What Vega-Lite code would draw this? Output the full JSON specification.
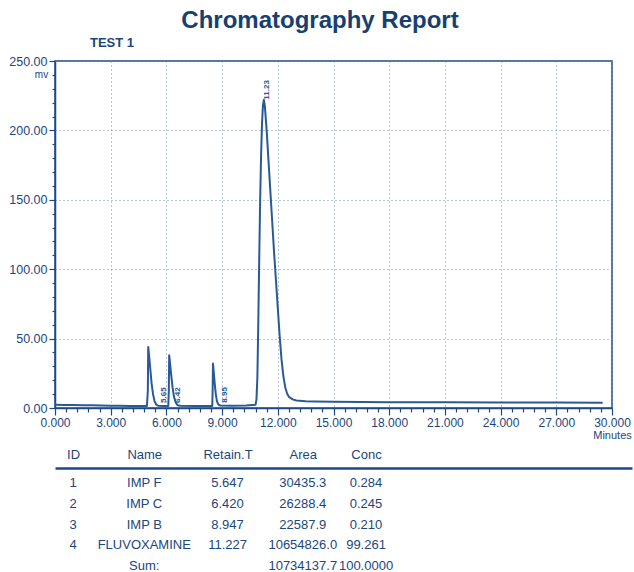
{
  "$schema": "https://vega.github.io/schema/vega-lite/v6.json",
  "background": "white",
  "padding": {"left": 8, "top": 9, "right": 0, "bottom": 0},
  "title": {"text": "Chromatography Report", "fontSize": 24, "font": "Liberation Sans", "fontWeight": "bold", "color": "#173f70", "anchor": "middle", "offset": 3},
  "config": {"font": "Liberation Sans", "view": {"stroke": null}, "concat": {"spacing": 7}},
  "vconcat": [
    {
      "width": 557,
      "height": 347,
      "view": {"stroke": "#1d4a85", "strokeWidth": 1.5},
      "title": {"text": "TEST 1", "anchor": "start", "frame": "group", "fontSize": 13, "fontWeight": "bold", "color": "#1b4680", "dx": 35, "offset": 5},
      "layer": [
        {
          "data": {"values": [
            {"t":0,"mv":2.3},{"t":0.5,"mv":2.2},{"t":1,"mv":2.1},{"t":1.5,"mv":2.0},{"t":2,"mv":1.9},{"t":2.5,"mv":1.8},{"t":3,"mv":1.7},{"t":3.5,"mv":1.6},{"t":4,"mv":1.5},{"t":4.5,"mv":1.5},{"t":4.95,"mv":1.5},
            {"t":5.0,"mv":12},{"t":5.02,"mv":44},{"t":5.06,"mv":39},{"t":5.12,"mv":30},{"t":5.2,"mv":18},{"t":5.28,"mv":10},{"t":5.36,"mv":5},{"t":5.45,"mv":2.5},{"t":5.55,"mv":1.7},{"t":5.8,"mv":1.5},{"t":6.1,"mv":1.5},
            {"t":6.13,"mv":12},{"t":6.15,"mv":38},{"t":6.19,"mv":33},{"t":6.25,"mv":25},{"t":6.33,"mv":15},{"t":6.41,"mv":8},{"t":6.5,"mv":4},{"t":6.6,"mv":2},{"t":6.75,"mv":1.6},{"t":7.5,"mv":1.5},{"t":8.47,"mv":1.5},
            {"t":8.49,"mv":12},{"t":8.51,"mv":32},{"t":8.55,"mv":26},{"t":8.6,"mv":18},{"t":8.66,"mv":10},{"t":8.72,"mv":5},{"t":8.8,"mv":2.5},{"t":8.9,"mv":1.8},{"t":9.5,"mv":1.7},{"t":10.3,"mv":1.8},{"t":10.8,"mv":2.3},
            {"t":10.85,"mv":6},{"t":10.9,"mv":22},{"t":10.95,"mv":62},{"t":11.0,"mv":108},{"t":11.05,"mv":150},{"t":11.1,"mv":182},{"t":11.15,"mv":205},{"t":11.2,"mv":218},{"t":11.25,"mv":222},{"t":11.3,"mv":218},{"t":11.4,"mv":200},{"t":11.5,"mv":178},{"t":11.6,"mv":156},{"t":11.7,"mv":134},{"t":11.8,"mv":112},{"t":11.9,"mv":92},{"t":12.0,"mv":72},{"t":12.1,"mv":52},{"t":12.2,"mv":35},{"t":12.3,"mv":23},{"t":12.4,"mv":15},{"t":12.5,"mv":10.5},{"t":12.6,"mv":8},{"t":12.8,"mv":6.2},{"t":13.0,"mv":5.4},{"t":13.5,"mv":4.9},{"t":14,"mv":4.7},{"t":15,"mv":4.5},{"t":16.5,"mv":4.3},{"t":18,"mv":4.2},{"t":21,"mv":4.1},{"t":24,"mv":4.0},{"t":27,"mv":3.9},{"t":29.5,"mv":3.8}
          ]},
          "mark": {"type": "line", "color": "#2a5a96", "strokeWidth": 2, "strokeJoin": "round"},
          "encoding": {
            "x": {
              "field": "t", "type": "quantitative",
              "scale": {"domain": [0, 30], "nice": false, "zero": false},
              "axis": {
                "values": [0,0.6,1.2,1.8,2.4,3,3.6,4.2,4.8,5.4,6,6.6,7.2,7.8,8.4,9,9.6,10.2,10.8,11.4,12,12.6,13.2,13.8,14.4,15,15.6,16.2,16.8,17.4,18,18.6,19.2,19.8,20.4,21,21.6,22.2,22.8,23.4,24,24.6,25.2,25.8,26.4,27,27.6,28.2,28.8,29.4,30],
                "tickCount": 1000,
                "labelExpr": "abs(datum.value/3 - round(datum.value/3)) < 0.001 ? format(datum.value, '.3f') : ''",
                "tickSize": {"condition": {"test": "abs(datum.value/3 - round(datum.value/3)) < 0.001", "value": 7}, "value": 4},
                "grid": true,
                "gridOpacity": {"condition": {"test": "abs(datum.value/3 - round(datum.value/3)) < 0.001", "value": 1}, "value": 0},
                "gridDash": [1, 3], "gridColor": "#6f8fbf", "gridWidth": 1,
                "labelOverlap": false, "labelBound": false, "labelFlush": false,
                "labelFontSize": 12, "labelColor": "#1b4680", "labelPadding": 2,
                "domainColor": "#1d4a85", "domainWidth": 1.5, "tickColor": "#1d4a85", "tickWidth": 1.2,
                "title": "Minutes", "titleX": 557, "titleY": 27, "titleAlign": "center", "titleBaseline": "middle",
                "titleFontSize": 11, "titleFontWeight": "normal", "titleColor": "#1b4680"
              }
            },
            "y": {
              "field": "mv", "type": "quantitative",
              "scale": {"domain": [0, 250], "nice": false},
              "axis": {
                "values": [0,10,20,30,40,50,60,70,80,90,100,110,120,130,140,150,160,170,180,190,200,210,220,230,240,250],
                "tickCount": 1000,
                "labelExpr": "datum.value % 50 === 0 ? format(datum.value, '.2f') : ''",
                "tickSize": {"condition": {"test": "datum.value % 50 === 0", "value": 6}, "value": 3},
                "grid": true,
                "gridOpacity": {"condition": {"test": "datum.value % 50 === 0", "value": 1}, "value": 0},
                "gridDash": [1, 3], "gridColor": "#6f8fbf", "gridWidth": 1,
                "labelOverlap": false, "labelBound": false, "labelFlush": false,
                "labelFontSize": 12.5, "labelColor": "#1b4680", "labelPadding": 2,
                "domainColor": "#1d4a85", "domainWidth": 1.5, "tickColor": "#1d4a85", "tickWidth": 1.2,
                "title": "mv", "titleAngle": 0, "titleX": -14, "titleY": 13, "titleAlign": "center", "titleBaseline": "middle",
                "titleFontSize": 10, "titleFontWeight": "normal", "titleColor": "#1b4680"
              }
            }
          }
        },
        {
          "data": {"values": [
            {"rt": 5.647, "label": "5.65", "signal": 1.5},
            {"rt": 6.42, "label": "6.42", "signal": 1.5},
            {"rt": 8.947, "label": "8.95", "signal": 1.7},
            {"rt": 11.227, "label": "11.23", "signal": 220}
          ]},
          "mark": {"type": "text", "angle": 270, "align": "left", "baseline": "top", "fontSize": 8, "fontWeight": "bold", "color": "#2a5a96", "dx": 3},
          "encoding": {
            "x": {"field": "rt", "type": "quantitative"},
            "y": {"field": "signal", "type": "quantitative"},
            "text": {"field": "label"}
          }
        }
      ]
    },
    {
      "width": 577,
      "height": 100,
      "data": {"values": [
        {"row":"1","colNo":1,"val":"1"},{"row":"1","colNo":2,"val":"IMP F"},{"row":"1","colNo":3,"val":"5.647"},{"row":"1","colNo":4,"val":"30435.3"},{"row":"1","colNo":5,"val":"0.284"},
        {"row":"2","colNo":1,"val":"2"},{"row":"2","colNo":2,"val":"IMP C"},{"row":"2","colNo":3,"val":"6.420"},{"row":"2","colNo":4,"val":"26288.4"},{"row":"2","colNo":5,"val":"0.245"},
        {"row":"3","colNo":1,"val":"3"},{"row":"3","colNo":2,"val":"IMP B"},{"row":"3","colNo":3,"val":"8.947"},{"row":"3","colNo":4,"val":"22587.9"},{"row":"3","colNo":5,"val":"0.210"},
        {"row":"4","colNo":1,"val":"4"},{"row":"4","colNo":2,"val":"FLUVOXAMINE"},{"row":"4","colNo":3,"val":"11.227"},{"row":"4","colNo":4,"val":"10654826.0"},{"row":"4","colNo":5,"val":"99.261"},
        {"row":"Sum","colNo":2,"val":"Sum:"},{"row":"Sum","colNo":4,"val":"10734137.7"},{"row":"Sum","colNo":5,"val":"100.0000"}
      ]},
      "mark": {"type": "text", "fontSize": 13, "color": "#1b4680", "dx": {"expr": "datum.colNo === 3 ? 8 : datum.colNo === 4 ? 10 : datum.colNo === 2 ? -2 : 0"}},
      "encoding": {
        "x": {
          "field": "colNo", "type": "quantitative",
          "scale": {"domain": [0.754, 8.631], "nice": false, "zero": false},
          "axis": {
            "orient": "top", "title": null, "ticks": false, "grid": false,
            "values": [1, 2, 3, 4, 5], "tickCount": 100,
            "labelExpr": "['ID','Name','Retain.T','Area','Conc'][datum.value - 1]",
            "labelPadding": 7, "labelFontSize": 13, "labelColor": "#1b4680", "labelAngle": 0,
            "labelOverlap": false, "labelFlush": false, "labelBound": false,
            "labelOffset": {"condition": [{"test": "datum.value === 3", "value": 8}, {"test": "datum.value === 4", "value": 10}, {"test": "datum.value === 2", "value": -2}], "value": 0},
            "domainColor": "#1d4a85", "domainWidth": 2.5
          }
        },
        "y": {
          "field": "row", "type": "ordinal", "sort": ["1", "2", "3", "4", "Sum"],
          "scale": {"type": "point", "range": [15, 98], "padding": 0},
          "axis": null
        },
        "text": {"field": "val"}
      }
    }
  ]
}
